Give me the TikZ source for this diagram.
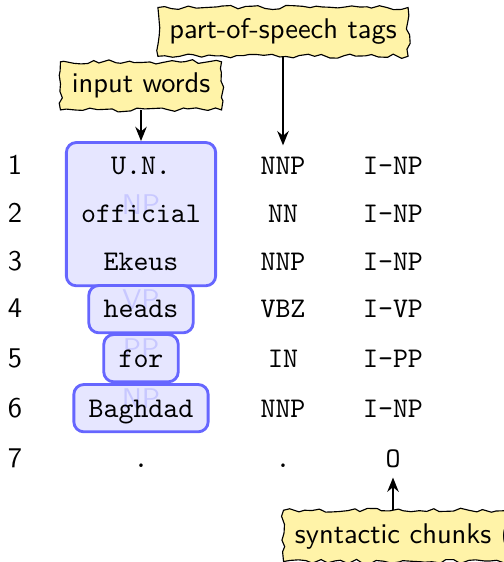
\documentclass[tikz,border=0pt]{standalone}
\usepackage{fontspec}
\usetikzlibrary{arrows.meta,decorations.pathmorphing,fit,backgrounds,calc}
\definecolor{notefill}{RGB}{255,243,168}
\definecolor{chunkfill}{RGB}{230,230,255}
\definecolor{chunkline}{RGB}{102,102,255}
\definecolor{chunktext}{RGB}{200,200,255}
\begin{document}
\pgfmathsetseed{7}
\begin{tikzpicture}[x=0.351pt,y=-0.351pt,
  word/.style={font=\ttfamily, inner sep=0pt, text height=6.2pt, text depth=0pt, anchor=base},
  rownum/.style={font=\sffamily, inner sep=0pt, anchor=base},
  chunkbox/.style={draw=chunkline, fill=chunkfill, line width=1pt, rounded corners=3.5pt, inner sep=5pt},
  chunklabel/.style={font=\sffamily, text=chunktext, inner sep=0pt, anchor=base},
  note/.style={font=\sffamily, fill=notefill, draw=black, line width=0.4pt, inner sep=4pt,
    decorate, decoration={random steps, segment length=2.5pt, amplitude=0.75pt}},
  pointer/.style={-{Stealth[length=5pt,width=4pt]}, line width=0.8pt}
]
\path[use as bounding box] (0,0) rectangle (503,562);

% row numbers
\node[rownum] (n1) at (15,175) {1};
\node[rownum] (n2) at (15,223) {2};
\node[rownum] (n3) at (15,271) {3};
\node[rownum] (n4) at (15,318) {4};
\node[rownum] (n5) at (15,367) {5};
\node[rownum] (n6) at (15,417) {6};
\node[rownum] (n7) at (15,467) {7};

% words
\node[word] (w1) at (141,175) {U.N.};
\node[word] (w2) at (141,223) {official};
\node[word] (w3) at (141,271) {Ekeus};
\node[word] (w4) at (141,318) {heads};
\node[word] (w5) at (141,367) {for};
\node[word] (w6) at (141,417) {Baghdad};
\node[word] (w7) at (141,467) {.};

% part-of-speech tags
\node[word] (t1) at (283,175) {NNP};
\node[word] (t2) at (283,223) {NN};
\node[word] (t3) at (283,271) {NNP};
\node[word] (t4) at (283,318) {VBZ};
\node[word] (t5) at (283,367) {IN};
\node[word] (t6) at (283,417) {NNP};
\node[word] (t7) at (283,467) {.};

% chunk tags
\node[word] (c1) at (393,175) {I-NP};
\node[word] (c2) at (393,223) {I-NP};
\node[word] (c3) at (393,271) {I-NP};
\node[word] (c4) at (393,318) {I-VP};
\node[word] (c5) at (393,367) {I-PP};
\node[word] (c6) at (393,417) {I-NP};
\node[word] (c7) at (393,467) {O};

% chunk boxes behind the words
\begin{scope}[on background layer]
  \node[chunkbox, fit=(w1)(w2)(w3)] (np1) {};
  \node[chunklabel] (lnp1) at (np1.center) {NP};
  \node[chunkbox, fit=(w4)] (vp) {};
  \node[chunklabel] (lvp) at (vp.center) {VP};
  \node[chunkbox, fit=(w5)] (pp) {};
  \node[chunklabel] (lpp) at (pp.center) {PP};
  \node[chunkbox, fit=(w6)] (np2) {};
  \node[chunklabel] (lnp2) at (np2.center) {NP};
\end{scope}

% callouts
\node[note, anchor=base] (pos) at (283,39) {part-of-speech tags};
\node[note, anchor=base] (inw) at (141,93) {input words};
\node[note, anchor=base west] (syn) at (283,543) {syntactic chunks (IOB)};

\draw[pointer, shorten >=4pt] (pos.south) -- (t1.north);
\draw[pointer] (inw.south) -- (np1.north);
\draw[pointer, shorten >=3.5pt] (syn.north -| c7.south) -- (c7.south);
\end{tikzpicture}
\end{document}
